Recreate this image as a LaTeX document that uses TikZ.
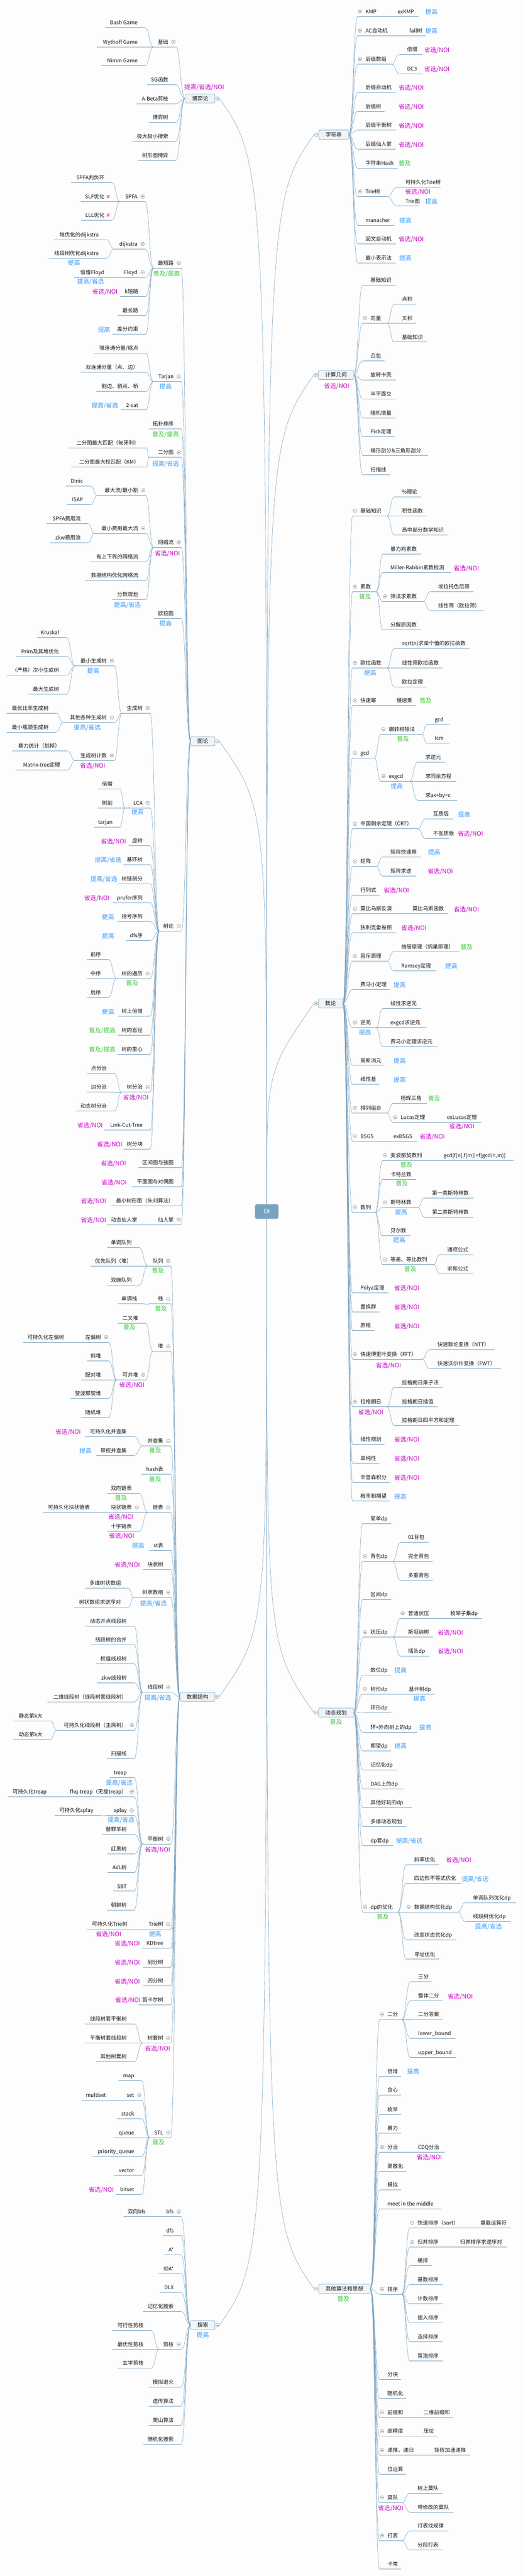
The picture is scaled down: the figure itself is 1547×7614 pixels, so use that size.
\documentclass[tikz,border=0pt]{standalone}
\usepackage{fontspec}
\setmainfont{Noto Sans CJK SC}
\newfontfamily\dvfont{DejaVu Sans}
\usetikzlibrary{calc}
\definecolor{lc}{RGB}{122,162,192}
\definecolor{cblue}{RGB}{55,152,250}
\definecolor{cmag}{RGB}{204,0,204}
\definecolor{cgreen}{RGB}{55,200,55}
\definecolor{xred}{RGB}{255,80,110}
\definecolor{mfill}{RGB}{239,244,248}
\definecolor{rootc}{RGB}{121,162,193}
\definecolor{txc}{RGB}{20,20,20}
\definecolor{bgc}{RGB}{253,253,253}
\definecolor{icc}{RGB}{125,125,125}
\newcommand\tgA{\color{cblue}提高}
\newcommand\tgB{\color{cblue}提高/省选}
\newcommand\tgC{\color{cmag}省选/NOI}
\newcommand\tgD{\color{cgreen}普及}
\newcommand\tgE{\color{cgreen}普及/提高}
\newcommand\tgF{\color{cmag}提高/省选/NOI}
\tikzset{
  uline/.style={lc, line width=1.3pt},
  rline/.style={lc, line width=0.9pt},
  conn/.style={lc, line width=0.9pt, to path={.. controls ($(\tikztostart)!0.5!(\tikztostart -| \tikztotarget)$) and ($(\tikztotarget)!0.5!(\tikztotarget -| \tikztostart)$) .. (\tikztotarget)}},
  tx/.style={inner sep=0pt, font=\fontsize{15.5}{18}\selectfont, text=txc},
  tag/.style={inner sep=0pt, font=\fontsize{18}{20}\selectfont},
  mbox/.style={draw=lc, fill=mfill, line width=1pt, rounded corners=3pt, minimum height=27pt, inner sep=0pt, font=\fontsize{16}{18}\selectfont, text=txc},
  rootbox/.style={fill=rootc, rounded corners=5pt, minimum width=69pt, minimum height=43pt, inner sep=0pt, font=\fontsize{18}{20}\selectfont, text=white},
  colic/.style={circle, draw=icc, fill=white, line width=0.7pt, minimum size=11pt, inner sep=0pt, path picture={\draw[icc, line width=0.8pt] ([xshift=-3pt]path picture bounding box.center) -- ([xshift=3pt]path picture bounding box.center);}},
  xm/.style={inner sep=0pt, font=\dvfont\fontsize{15}{15}\selectfont, text=xred},
}
\newcommand\TpR[5]{%
  \coordinate (#1-l) at (#2,#4);
  \coordinate (#1-r) at (#3,#4);
  \draw[uline] (#1-l) -- (#1-r);
  \node[tx,anchor=base west] (#1) at (#2+23,#4-9) {#5};}
\newcommand\TpL[5]{%
  \coordinate (#1-l) at (#2,#4);
  \coordinate (#1-r) at (#3,#4);
  \draw[uline] (#1-l) -- (#1-r);
  \node[tx,anchor=base east] (#1) at (#3-22,#4-9) {#5};}
\newcommand\TgR[4]{\node[tag,anchor=base west] (#1-t) at (#3,#4-7) {\csname tg#2\endcsname};}
\newcommand\TgL[4]{\node[tag,anchor=base east] (#1-t) at (#3,#4-7) {\csname tg#2\endcsname};}
\newcommand\TgB[4]{\node[tag,anchor=base] (#1-t) at (#3,#4+7) {\csname tg#2\endcsname};}
\newcommand\EdR[2]{\foreach \kid in {#2}{\draw[conn] (#1-r) to (\kid-l);}}
\newcommand\EdL[2]{\foreach \kid in {#2}{\draw[conn] (#1-l) to (\kid-r);}}
\newcommand\ColR[1]{\foreach \kid in {#1}{\node[colic] (\kid-c) at ($(\kid-l)+(7,-15)$) {};}}
\newcommand\ColL[1]{\foreach \kid in {#1}{\node[colic] (\kid-c) at ($(\kid-r)+(-7,-15)$) {};}}
\begin{document}
\begin{tikzpicture}[x=1pt,y=-1pt]
\fill[bgc] (0,0) rectangle (1547,7614);
\useasboundingbox (0,0) rectangle (1547,7614);

%% ================= main boxes =================
\node[mbox,minimum width=88pt] (bo) at (592,291) {博弈论};
\node[mbox,minimum width=72pt] (tl) at (600,2191) {图论};
\node[mbox,minimum width=103pt] (sj) at (584,5015) {数据结构};
\node[mbox,minimum width=72pt] (ss) at (600,6872) {搜索};
\node[mbox,minimum width=89pt] (zf) at (987,398) {字符串};
\node[mbox,minimum width=104pt] (jh) at (994,1108) {计算几何};
\node[mbox,minimum width=72pt] (sl) at (978,2966) {数论};
\node[mbox,minimum width=104pt] (dpm) at (994,5062) {动态规划};
\node[mbox,minimum width=153pt] (qt) at (1019,6765) {其他算法和思想};
\foreach \b in {bo,tl,sj,ss}{\coordinate (\b-l) at (\b.west);}
\foreach \b in {zf,jh,sl,dpm,qt}{\coordinate (\b-r) at (\b.east);}
\TgB{bo}{F}{604}{257}
\TgB{ss}{A}{600}{6901}
\TgB{jh}{C}{996}{1140}
\TgB{dpm}{D}{994}{5089}
\TgB{qt}{D}{1016}{6795}

%% ================= 博弈论 =================
\TpL{b1}{454}{520}{139}{基础}
\TpL{b2}{435}{520}{250}{SG函数}
\TpL{b3}{403}{520}{306}{A-Beta剪枝}
\TpL{b4}{440}{520}{362}{博弈树}
\TpL{b5}{392}{520}{418}{极大极小搜索}
\TpL{b6}{408}{520}{474}{树形图博弈}
\TpL{b11}{311}{429}{82}{Bash Game}
\TpL{b12}{286}{429}{139}{Wythoff Game}
\TpL{b13}{299}{429}{194}{Nimm Game}

%% ================= 图论 =================
\TpL{t1}{454}{536}{792}{最短路} \TgB{t1}{E}{493}{808}
\TpL{t2}{454}{536}{1128}{Tarjan} \TgB{t2}{A}{490}{1142}
\TpL{t3}{440}{536}{1268}{拓扑排序} \TgB{t3}{E}{490}{1283}
\TpL{t4}{440}{536}{1352}{二分图} \TgB{t4}{B}{490}{1370}
\TpL{t5}{454}{536}{1618}{网络流} \TgB{t5}{C}{495}{1635}
\TpL{t6}{456}{536}{1828}{欧拉图} \TgB{t6}{A}{490}{1842}
\TpL{t7}{471}{536}{2752}{树论}
\TpL{t8}{409}{536}{3452}{区间图与弦图} \TgL{t8}{C}{373}{3452}
\TpL{t9}{392}{536}{3508}{平面图与对偶图} \TgL{t9}{C}{375}{3508}
\TpL{ta}{328}{536}{3564}{最小树形图（朱刘算法）} \TgL{ta}{C}{314}{3564}
\TpL{tb}{444}{536}{3620}{仙人掌}
\TpL{tb1}{316}{428}{3620}{动态仙人掌} \TgL{tb1}{C}{314}{3620}
\TpL{t11}{355}{429}{596}{SPFA}
\TpL{t12}{338}{429}{736}{dijkstra}
\TpL{t13}{355}{429}{820}{Floyd}
\TpL{t14}{355}{431}{876}{k短路} \TgL{t14}{C}{348}{876}
\TpL{t15}{348}{431}{932}{最长路}
\TpL{t16}{332}{431}{988}{差分约束} \TgL{t16}{A}{326}{988}
\TpL{t111}{210}{331}{540}{SPFA判负环}
\TpL{t112}{239}{331}{596}{SLF优化} \node[xm] (t112-x) at (320,581) {✘};
\TpL{t113}{240}{331}{651}{LLL优化} \node[xm] (t113-x) at (320,636) {✘};
\TpL{t121}{160}{314}{708}{堆优化的dijkstra}
\TpL{t122}{144}{314}{764}{线段树优化dijkstra} \TgB{t122}{A}{219}{776}
\TpL{t131}{220}{331}{820}{倍增Floyd} \TgB{t131}{B}{268}{832}
\TpL{t21}{278}{431}{1044}{强连通分量/缩点}
\TpL{t22}{237}{431}{1100}{双连通分量（点、边）}
\TpL{t23}{285}{431}{1157}{割边、割点、桥}
\TpL{t24}{358}{431}{1212}{2-sat} \TgL{t24}{B}{350}{1212}
\TpL{t41}{204}{434}{1324}{二分图最大匹配（匈牙利）}
\TpL{t42}{210}{434}{1380}{二分图最大权匹配（KM）}
\TpL{t51}{288}{431}{1464}{最大流/最小割}
\TpL{t52}{279}{431}{1576}{最小费用最大流}
\TpL{t53}{267}{431}{1660}{有上下界的网络流}
\TpL{t54}{252}{431}{1716}{数据结构优化网络流}
\TpL{t55}{332}{431}{1772}{分数规划} \TgB{t55}{B}{377}{1787}
\TpL{t511}{194}{268}{1436}{Dinic}
\TpL{t512}{198}{268}{1492}{ISAP}
\TpL{t521}{137}{261}{1548}{SPFA费用流}
\TpL{t522}{147}{261}{1604}{zkw费用流}
\TpL{t71}{360}{444}{2108}{生成树}
\TpL{t72}{370}{444}{2388}{LCA} \TgB{t72}{A}{407}{2400}
\TpL{t73}{380}{444}{2500}{虚树} \TgL{t73}{C}{373}{2500}
\TpL{t74}{365}{444}{2556}{基环树} \TgL{t74}{B}{360}{2556}
\TpL{t75}{348}{444}{2612}{树链剖分} \TgL{t75}{B}{347}{2612}
\TpL{t76}{333}{444}{2668}{prufer序列} \TgL{t76}{C}{324}{2668}
\TpL{t77}{348}{444}{2724}{括号序列} \TgL{t77}{A}{338}{2724}
\TpL{t78}{373}{444}{2780}{dfs序} \TgL{t78}{A}{338}{2780}
\TpL{t79}{345}{444}{2892}{树的遍历} \TgB{t79}{D}{391}{2906}
\TpL{t7a}{348}{444}{3004}{树上倍增} \TgL{t7a}{A}{338}{3004}
\TpL{t7b}{348}{444}{3060}{树的直径} \TgL{t7b}{E}{342}{3060}
\TpL{t7c}{348}{444}{3116}{树的重心} \TgL{t7c}{E}{342}{3116}
\TpL{t7d}{360}{444}{3228}{树分治} \TgB{t7d}{C}{402}{3243}
\TpL{t7e}{308}{444}{3340}{Link-Cut-Tree} \TgL{t7e}{C}{304}{3340}
\TpL{t7f}{365}{444}{3396}{树分块} \TgL{t7f}{C}{362}{3396}
\TpL{t711}{222}{338}{1968}{最小生成树} \TgB{t711}{A}{276}{1983}
\TpL{t712}{187}{338}{2136}{其他各种生成树} \TgB{t712}{B}{258}{2150}
\TpL{t713}{222}{338}{2248}{生成树计数} \TgB{t713}{C}{274}{2263}
\TpL{m1}{109}{197}{1884}{Kruskal}
\TpL{m2}{49}{197}{1940}{Prim及其堆优化}
\TpL{m3}{20}{197}{1996}{（严格）次小生成树}
\TpL{m4}{84}{197}{2052}{最大生成树}
\TpL{m5}{20}{166}{2108}{最优比率生成树}
\TpL{m6}{20}{166}{2164}{最小瓶颈生成树}
\TpL{m7}{37}{200}{2220}{暴力统计（划掉）}
\TpL{m8}{46}{200}{2276}{Matrix-tree定理}
\TpL{t721}{289}{355}{2332}{倍增}
\TpL{t722}{289}{355}{2388}{树剖}
\TpL{t723}{278}{355}{2444}{tarjan}
\TpL{t791}{257}{321}{2836}{前序}
\TpL{t792}{257}{321}{2892}{中序}
\TpL{t793}{257}{321}{2948}{后序}
\TpL{t7d1}{257}{338}{3172}{点分治}
\TpL{t7d2}{257}{338}{3228}{边分治}
\TpL{t7d3}{225}{338}{3284}{动态树分治}

%% ================= 数据结构 =================
\TpL{d1}{437}{505}{3742}{队列} \TgB{d1}{D}{467}{3755}
\TpL{d11}{316}{412}{3687}{单调队列}
\TpL{d12}{268}{412}{3742}{优先队列（堆）}
\TpL{d13}{316}{412}{3798}{双端队列}
\TpL{d2}{440}{505}{3854}{栈} \TgB{d2}{D}{476}{3867}
\TpL{d21}{348}{428}{3854}{单调栈}
\TpL{d3}{452}{505}{3994}{堆}
\TpL{d31}{348}{431}{3911}{二叉堆} \TgB{d31}{D}{383}{3923}
\TpL{d32}{345}{431}{4078}{可并堆} \TgB{d32}{C}{390}{4093}
\TpL{d321}{228}{321}{3967}{左偏树}
\TpL{d3211}{69}{212}{3967}{可持久化左偏树}
\TpL{d322}{257}{321}{4022}{斜堆}
\TpL{d323}{240}{321}{4078}{配对堆}
\TpL{d324}{209}{321}{4134}{斐波那契堆}
\TpL{d325}{240}{321}{4190}{随机堆}
\TpL{d4}{422}{505}{4274}{并查集} \TgB{d4}{D}{459}{4287}
\TpL{d41}{252}{397}{4246}{可持久化并查集} \TgL{d41}{C}{239}{4246}
\TpL{d42}{284}{397}{4302}{带权并查集} \TgL{d42}{A}{271}{4302}
\TpL{d5}{419}{505}{4358}{hash表} \TgB{d5}{D}{459}{4371}
\TpL{d6}{437}{505}{4470}{链表}
\TpL{d61}{316}{412}{4414}{双向链表} \TgB{d61}{D}{358}{4426}
\TpL{d62}{304}{412}{4470}{块状链表} \TgB{d62}{C}{358}{4483}
\TpL{d621}{128}{288}{4470}{可持久化块状链表}
\TpL{d63}{316}{412}{4526}{十字链表} \TgB{d63}{C}{360}{4540}
\TpL{d7}{442}{505}{4582}{st表} \TgL{d7}{A}{427}{4582}
\TpL{d8}{424}{505}{4639}{块状树} \TgL{d8}{C}{414}{4639}
\TpL{d9}{395}{505}{4722}{树状数组} \TgB{d9}{B}{454}{4739}
\TpL{d91}{252}{380}{4694}{多维树状数组}
\TpL{d92}{219}{380}{4750}{树状数组求逆序对}
\TpL{da}{422}{505}{5002}{线段树} \TgB{da}{B}{467}{5018}
\TpL{da1}{252}{397}{4806}{动态开点线段树}
\TpL{da2}{268}{397}{4862}{线段树的合并}
\TpL{da3}{284}{397}{4918}{权值线段树}
\TpL{da4}{286}{397}{4974}{zkw线段树}
\TpL{da5}{140}{397}{5030}{二维线段树（线段树套线段树）}
\TpL{da6}{168}{397}{5114}{可持久化线段树（主席树）}
\TpL{da61}{39}{148}{5086}{静态第k大}
\TpL{da62}{39}{148}{5142}{动态第k大}
\TpL{da7}{316}{397}{5198}{扫描线}
\TpL{db}{422}{505}{5450}{平衡树} \TgB{db}{C}{466}{5466}
\TpL{db1}{324}{397}{5254}{treap} \TgB{db1}{B}{353}{5268}
\TpL{db2}{175}{397}{5310}{fhq-treap（无旋treap）}
\TpL{db21}{23}{160}{5310}{可持久化treap}
\TpL{db3}{313}{397}{5366}{splay} \TgB{db3}{B}{358}{5378}
\TpL{db31}{161}{298}{5366}{可持久化splay}
\TpL{db4}{301}{397}{5422}{替罪羊树}
\TpL{db5}{316}{397}{5479}{红黑树}
\TpL{db6}{318}{397}{5535}{AVL树}
\TpL{db7}{335}{397}{5590}{SBT}
\TpL{db8}{316}{397}{5646}{朝鲜树}
\TpL{dc}{417}{505}{5702}{Trie树} \TgB{dc}{A}{459}{5716}
\TpL{dc1}{258}{399}{5702}{可持久化Trie树} \TgB{dc1}{C}{321}{5716}
\TpL{dd}{419}{505}{5758}{KDtree} \TgL{dd}{C}{414}{5758}
\TpL{de}{424}{505}{5814}{划分树} \TgL{de}{C}{414}{5814}
\TpL{df}{424}{505}{5870}{四分树} \TgL{df}{C}{414}{5870}
\TpL{dk}{409}{505}{5926}{笛卡尔树} \TgL{dk}{C}{416}{5926}
\TpL{dh}{422}{505}{6039}{树套树} \TgB{dh}{C}{466}{6054}
\TpL{dh1}{252}{397}{5982}{线段树套平衡树}
\TpL{dh2}{252}{397}{6039}{平衡树套线段树}
\TpL{dh3}{284}{397}{6094}{其他树套树}
\TpL{di}{442}{505}{6318}{STL} \TgB{di}{D}{469}{6332}
\TpL{di1}{350}{419}{6150}{map}
\TpL{di2}{351}{419}{6207}{set}
\TpL{di21}{242}{336}{6207}{multiset}
\TpL{di3}{345}{419}{6263}{stack}
\TpL{di4}{337}{419}{6318}{queue}
\TpL{di5}{274}{419}{6374}{priority\_queue}
\TpL{di6}{337}{419}{6430}{vector}
\TpL{di7}{342}{419}{6486}{bitset} \TgL{di7}{C}{337}{6486}

%% ================= 搜索 =================
\TpL{s1}{469}{536}{6552}{bfs}
\TpL{s11}{366}{453}{6552}{双向bfs}
\TpL{s2}{481}{536}{6608}{dfs}
\TpL{s3}{485}{536}{6664}{A*}
\TpL{s4}{469}{536}{6720}{IDA*}
\TpL{s5}{474}{536}{6776}{DLX}
\TpL{s6}{424}{536}{6832}{记忆化搜索}
\TpL{s7}{471}{536}{6944}{剪枝}
\TpL{s71}{332}{447}{6888}{可行性剪枝}
\TpL{s72}{332}{447}{6944}{最优性剪枝}
\TpL{s73}{348}{447}{7000}{玄学剪枝}
\TpL{s8}{440}{536}{7056}{模拟退火}
\TpL{s9}{440}{536}{7112}{遗传算法}
\TpL{sa}{440}{536}{7168}{爬山算法}
\TpL{sb}{424}{536}{7224}{随机化搜索}

%% ================= 字符串 =================
\TpR{z1}{1058}{1153}{49}{KMP}
\TpR{z11}{1153}{1240}{49}{exKMP} \TgR{z11}{A}{1258}{49}
\TpR{z2}{1058}{1188}{105}{AC自动机}
\TpR{z21}{1188}{1260}{105}{fail树} \TgR{z21}{A}{1258}{105}
\TpR{z3}{1058}{1159}{190}{后缀数组}
\TpR{z31}{1181}{1248}{161}{倍增} \TgR{z31}{C}{1255}{161}
\TpR{z32}{1181}{1248}{218}{DC3} \TgR{z32}{C}{1255}{218}
\TpR{z4}{1058}{1171}{273}{后缀自动机} \TgR{z4}{C}{1179}{273}
\TpR{z5}{1058}{1138}{329}{后缀树} \TgR{z5}{C}{1179}{329}
\TpR{z6}{1058}{1171}{385}{后缀平衡树} \TgR{z6}{C}{1179}{385}
\TpR{z7}{1058}{1171}{441}{后缀仙人掌} \TgR{z7}{C}{1179}{441}
\TpR{z8}{1058}{1177}{497}{字符串Hash} \TgR{z8}{D}{1179}{497}
\TpR{z9}{1058}{1144}{581}{Trie树}
\TpR{z91}{1176}{1304}{553}{可持久化Trie树} \TgB{z91}{C}{1236}{566}
\TpR{z92}{1176}{1240}{609}{Trie图} \TgR{z92}{A}{1258}{609}
\TpR{za}{1058}{1167}{666}{manacher} \TgR{za}{A}{1181}{666}
\TpR{zb}{1058}{1171}{721}{回文自动机} \TgR{zb}{C}{1179}{721}
\TpR{zc}{1058}{1171}{777}{最小表示法} \TgR{zc}{A}{1181}{777}

%% ================= 计算几何 =================
\TpR{j1}{1073}{1171}{843}{基础知识}
\TpR{j2}{1073}{1145}{955}{向量}
\TpR{j21}{1166}{1230}{899}{点积}
\TpR{j22}{1166}{1230}{955}{叉积}
\TpR{j23}{1166}{1263}{1011}{基础知识}
\TpR{j3}{1073}{1138}{1067}{凸包}
\TpR{j4}{1073}{1171}{1123}{旋转卡壳}
\TpR{j5}{1073}{1171}{1179}{半平面交}
\TpR{j6}{1073}{1171}{1235}{随机增量}
\TpR{j7}{1073}{1169}{1291}{Pick定理}
\TpR{j8}{1073}{1265}{1347}{梯形剖分\&三角形剖分}
\TpR{j9}{1073}{1154}{1403}{扫描线}

%% ================= 数论 =================
\TpR{n1}{1043}{1145}{1525}{基础知识}
\TpR{n11}{1166}{1245}{1469}{\%理论}
\TpR{n12}{1166}{1263}{1525}{积性函数}
\TpR{n13}{1166}{1327}{1581}{高中部分数学知识}
\TpR{n2}{1043}{1113}{1749}{素数} \TgB{n2}{D}{1080}{1763}
\TpR{n21}{1132}{1246}{1638}{暴力判素数}
\TpR{n22}{1132}{1334}{1693}{Miller-Rabbin素数检测} \TgR{n22}{C}{1342}{1693}
\TpR{n23}{1132}{1251}{1778}{筛法求素数}
\TpR{n231}{1273}{1401}{1749}{埃拉托色尼筛}
\TpR{n232}{1273}{1433}{1805}{线性筛（欧拉筛）}
\TpR{n24}{1132}{1246}{1861}{分解质因数}
\TpR{n3}{1043}{1145}{1974}{欧拉函数} \TgB{n3}{A}{1095}{1988}
\TpR{n31}{1166}{1391}{1917}{sqrt(n)求单个值的欧拉函数}
\TpR{n32}{1166}{1310}{1974}{线性筛欧拉函数}
\TpR{n33}{1166}{1263}{2030}{欧拉定理}
\TpR{n4}{1043}{1150}{2085}{快速幂}
\TpR{n41}{1150}{1230}{2085}{慢速乘} \TgR{n41}{D}{1241}{2085}
\TpR{n5}{1043}{1107}{2240}{gcd}
\TpR{n51}{1127}{1248}{2170}{辗转相除法} \TgB{n51}{D}{1192}{2183}
\TpR{n511}{1263}{1330}{2141}{gcd}
\TpR{n512}{1263}{1330}{2197}{lcm}
\TpR{n52}{1127}{1212}{2309}{exgcd} \TgB{n52}{A}{1174}{2323}
\TpR{n521}{1235}{1317}{2253}{求逆元}
\TpR{n522}{1235}{1349}{2309}{求同余方程}
\TpR{n523}{1235}{1352}{2365}{求ax+by=c}
\TpR{n6}{1043}{1236}{2450}{中国剩余定理（CRT）}
\TpR{n61}{1258}{1340}{2421}{互质版} \TgR{n61}{A}{1355}{2421}
\TpR{n62}{1258}{1330}{2478}{不互质版} \TgR{n62}{C}{1354}{2478}
\TpR{n7}{1043}{1113}{2561}{矩阵}
\TpR{n71}{1132}{1246}{2533}{矩阵快速幂} \TgR{n71}{A}{1266}{2533}
\TpR{n72}{1132}{1231}{2589}{矩阵求逆} \TgR{n72}{C}{1265}{2589}
\TpR{n8}{1043}{1123}{2645}{行列式} \TgR{n8}{C}{1135}{2645}
\TpR{n9}{1043}{1197}{2701}{莫比乌斯反演}
\TpR{n91}{1197}{1327}{2701}{莫比乌斯函数} \TgR{n91}{C}{1342}{2701}
\TpR{na}{1043}{1171}{2757}{狄利克雷卷积} \TgR{na}{C}{1187}{2757}
\TpR{nb}{1043}{1145}{2841}{容斥原理}
\TpR{nb1}{1164}{1359}{2813}{抽屉原理（鸽巢原理）} \TgR{nb1}{D}{1362}{2813}
\TpR{nb2}{1164}{1290}{2869}{Ramsey定理} \TgR{nb2}{A}{1317}{2869}
\TpR{nc}{1043}{1154}{2925}{费马小定理} \TgR{nc}{A}{1164}{2925}
\TpR{nd}{1043}{1113}{3037}{逆元} \TgB{nd}{A}{1080}{3051}
\TpR{nd1}{1132}{1246}{2981}{线性求逆元}
\TpR{nd2}{1132}{1261}{3037}{exgcd求逆元}
\TpR{nd3}{1132}{1294}{3093}{费马小定理求逆元}
\TpR{ne}{1043}{1138}{3149}{高斯消元} \TgR{ne}{A}{1164}{3149}
\TpR{nf}{1043}{1123}{3205}{线性基} \TgR{nf}{A}{1164}{3205}
\TpR{ng}{1043}{1145}{3290}{排列组合}
\TpR{ng1}{1162}{1263}{3261}{杨辉三角} \TgR{ng1}{D}{1266}{3261}
\TpR{ng2}{1162}{1299}{3317}{Lucas定理}
\TpR{ng21}{1299}{1424}{3317}{exLucas定理} \TgB{ng21}{C}{1366}{3329}
\TpR{nh}{1043}{1141}{3373}{BSGS}
\TpR{nh1}{1141}{1233}{3373}{exBSGS} \TgR{nh1}{C}{1241}{3373}
\TpR{ni}{1043}{1110}{3583}{数列}
\TpR{ni1}{1132}{1289}{3430}{斐波那契数列} \TgB{ni1}{D}{1202}{3443}
\TpR{ni11}{1289}{1519}{3430}{gcd(f[n],f[m])=f[gcd(n,m)]}
\TpR{ni2}{1132}{1231}{3486}{卡特兰数} \TgB{ni2}{D}{1189}{3498}
\TpR{ni3}{1132}{1236}{3569}{斯特林数} \TgB{ni3}{A}{1187}{3583}
\TpR{ni31}{1255}{1401}{3541}{第一类斯特林数}
\TpR{ni32}{1255}{1401}{3597}{第二类斯特林数}
\TpR{ni4}{1132}{1214}{3653}{贝尔数} \TgB{ni4}{A}{1181}{3665}
\TpR{ni5}{1132}{1283}{3738}{等差、等比数列} \TgB{ni5}{D}{1214}{3751}
\TpR{ni51}{1300}{1401}{3709}{通项公式}
\TpR{ni52}{1300}{1401}{3765}{求和公式}
\TpR{nj}{1043}{1149}{3821}{Pólya定理} \TgR{nj}{C}{1166}{3821}
\TpR{nk}{1043}{1123}{3877}{置换群} \TgR{nk}{C}{1166}{3877}
\TpR{nl}{1043}{1107}{3933}{原根} \TgR{nl}{C}{1166}{3933}
\TpR{nm}{1043}{1248}{4017}{快速傅里叶变换（FFT）} \TgB{nm}{C}{1149}{4035}
\TpR{nm1}{1271}{1463}{3989}{快速数论变换（NTT）}
\TpR{nm2}{1271}{1482}{4045}{快速沃尔什变换（FWT）}
\TpR{nn}{1043}{1145}{4158}{拉格朗日} \TgB{nn}{C}{1097}{4174}
\TpR{nn1}{1166}{1310}{4101}{拉格朗日乘子法}
\TpR{nn2}{1166}{1294}{4158}{拉格朗日插值}
\TpR{nn3}{1166}{1359}{4213}{拉格朗日四平方和定理}
\TpR{no}{1043}{1138}{4269}{线性规划} \TgR{no}{C}{1166}{4269}
\TpR{np}{1043}{1123}{4325}{单纯性} \TgR{np}{C}{1166}{4325}
\TpR{nq}{1043}{1154}{4381}{辛普森积分} \TgR{nq}{C}{1166}{4381}
\TpR{nr}{1043}{1154}{4437}{概率和期望} \TgR{nr}{A}{1166}{4437}

%% ================= 动态规划 =================
\TpR{p1}{1073}{1157}{4503}{简单dp}
\TpR{p2}{1073}{1162}{4615}{背包dp}
\TpR{p21}{1184}{1268}{4559}{01背包}
\TpR{p22}{1184}{1281}{4615}{完全背包}
\TpR{p23}{1184}{1281}{4671}{多重背包}
\TpR{p3}{1073}{1157}{4727}{区间dp}
\TpR{p4}{1073}{1162}{4839}{状压dp}
\TpR{p41}{1184}{1309}{4783}{普通状压}
\TpR{p411}{1309}{1426}{4783}{枚举子集dp}
\TpR{p42}{1184}{1281}{4839}{斯坦纳树} \TgR{p42}{C}{1295}{4839}
\TpR{p43}{1184}{1270}{4895}{插头dp} \TgR{p43}{C}{1295}{4895}
\TpR{p5}{1073}{1157}{4951}{数位dp} \TgR{p5}{A}{1167}{4951}
\TpR{p6}{1073}{1186}{5007}{树形dp}
\TpR{p61}{1186}{1286}{5007}{基环树dp} \TgB{p61}{A}{1241}{5021}
\TpR{p7}{1073}{1157}{5063}{环形dp}
\TpR{p8}{1073}{1233}{5120}{环+外向树上的dp} \TgR{p8}{A}{1240}{5120}
\TpR{p9}{1073}{1157}{5175}{期望dp} \TgR{p9}{A}{1167}{5175}
\TpR{pa}{1073}{1174}{5231}{记忆化dp}
\TpR{pb}{1073}{1194}{5287}{DAG上的dp}
\TpR{pc}{1073}{1218}{5343}{其他好玩的dp}
\TpR{pd}{1073}{1202}{5399}{多维动态规划}
\TpR{pe}{1073}{1164}{5455}{dp套dp} \TgR{pe}{B}{1171}{5455}
\TpR{pf}{1073}{1177}{5651}{dp的优化} \TgB{pf}{D}{1132}{5665}
\TpR{pf1}{1202}{1299}{5511}{斜率优化} \TgR{pf1}{C}{1319}{5511}
\TpR{pf2}{1202}{1364}{5567}{四边形不等式优化} \TgR{pf2}{B}{1366}{5567}
\TpR{pf3}{1202}{1355}{5651}{数据结构优化dp}
\TpR{pf31}{1376}{1527}{5624}{单调队列优化dp}
\TpR{pf32}{1376}{1510}{5679}{线段树优化dp} \TgB{pf32}{B}{1445}{5694}
\TpR{pf4}{1202}{1350}{5734}{改变状态优化dp}
\TpR{pf5}{1202}{1299}{5791}{寻址优化}

%% ================= 其他算法和思想 =================
\TpR{q1}{1123}{1189}{5969}{二分}
\TpR{q11}{1214}{1278}{5858}{三分}
\TpR{q12}{1214}{1310}{5914}{整体二分} \TgR{q12}{C}{1324}{5914}
\TpR{q13}{1214}{1310}{5969}{二分答案}
\TpR{q14}{1214}{1347}{6025}{lower\_bound}
\TpR{q15}{1214}{1349}{6081}{upper\_bound}
\TpR{q2}{1123}{1186}{6137}{倍增} \TgR{q2}{A}{1204}{6137}
\TpR{q3}{1123}{1186}{6193}{贪心}
\TpR{q4}{1123}{1186}{6250}{枚举}
\TpR{q5}{1123}{1186}{6305}{暴力}
\TpR{q6}{1123}{1213}{6361}{分治}
\TpR{q61}{1213}{1315}{6361}{CDQ分治} \TgB{q61}{C}{1270}{6375}
\TpR{q7}{1123}{1202}{6417}{离散化}
\TpR{q8}{1123}{1186}{6473}{模拟}
\TpR{q9}{1123}{1305}{6529}{meet in the middle}
\TpR{qa}{1123}{1189}{6781}{排序}
\TpR{qa1}{1212}{1398}{6585}{快速排序（sort）}
\TpR{qa11}{1398}{1512}{6585}{重载运算符}
\TpR{qa2}{1212}{1338}{6642}{归并排序}
\TpR{qa21}{1338}{1498}{6642}{归并排序求逆序对}
\TpR{qa3}{1212}{1278}{6697}{桶排}
\TpR{qa4}{1212}{1310}{6753}{基数排序}
\TpR{qa5}{1212}{1310}{6809}{计数排序}
\TpR{qa6}{1212}{1310}{6865}{插入排序}
\TpR{qa7}{1212}{1310}{6921}{选择排序}
\TpR{qa8}{1212}{1310}{6978}{冒泡排序}
\TpR{qb}{1123}{1186}{7033}{分块}
\TpR{qc}{1123}{1202}{7089}{随机化}
\TpR{qd}{1123}{1230}{7145}{前缀和}
\TpR{qd1}{1230}{1342}{7145}{二维前缀和}
\TpR{qe}{1123}{1230}{7201}{高精度}
\TpR{qe1}{1230}{1294}{7201}{压位}
\TpR{qf}{1123}{1262}{7257}{递推，递归}
\TpR{qf1}{1262}{1391}{7257}{矩阵加速递推}
\TpR{qg}{1123}{1202}{7313}{位运算}
\TpR{qh}{1123}{1189}{7397}{莫队} \TgB{qh}{C}{1156}{7412}
\TpR{qh1}{1212}{1310}{7369}{树上莫队}
\TpR{qh2}{1212}{1342}{7425}{带修改的莫队}
\TpR{qi}{1123}{1189}{7509}{打表}
\TpR{qi1}{1212}{1327}{7481}{打表找规律}
\TpR{qi2}{1212}{1310}{7537}{分段打表}
\TpR{qj}{1123}{1186}{7593}{卡常}

%% ================= connectors =================
\EdL{bo}{b1,b2,b3,b4,b5,b6}
\EdL{b1}{b11,b12,b13}
\EdL{tl}{t1,t2,t3,t4,t5,t6,t7,t8,t9,ta,tb}
\EdL{tb}{tb1}
\EdL{t1}{t11,t12,t13,t14,t15,t16}
\EdL{t11}{t111,t112,t113}
\EdL{t12}{t121,t122}
\EdL{t13}{t131}
\EdL{t2}{t21,t22,t23,t24}
\EdL{t4}{t41,t42}
\EdL{t5}{t51,t52,t53,t54,t55}
\EdL{t51}{t511,t512}
\EdL{t52}{t521,t522}
\EdL{t7}{t71,t72,t73,t74,t75,t76,t77,t78,t79,t7a,t7b,t7c,t7d,t7e,t7f}
\EdL{t71}{t711,t712,t713}
\EdL{t711}{m1,m2,m3,m4}
\EdL{t712}{m5,m6}
\EdL{t713}{m7,m8}
\EdL{t72}{t721,t722,t723}
\EdL{t79}{t791,t792,t793}
\EdL{t7d}{t7d1,t7d2,t7d3}
\EdL{sj}{d1,d2,d3,d4,d5,d6,d7,d8,d9,da,db,dc,dd,de,df,dk,dh,di}
\EdL{d1}{d11,d12,d13}
\EdL{d2}{d21}
\EdL{d3}{d31,d32}
\EdL{d32}{d321,d322,d323,d324,d325}
\EdL{d321}{d3211}
\EdL{d4}{d41,d42}
\EdL{d6}{d61,d62,d63}
\EdL{d62}{d621}
\EdL{d9}{d91,d92}
\EdL{da}{da1,da2,da3,da4,da5,da6,da7}
\EdL{da6}{da61,da62}
\EdL{db}{db1,db2,db3,db4,db5,db6,db7,db8}
\EdL{db2}{db21}
\EdL{db3}{db31}
\EdL{dc}{dc1}
\EdL{dh}{dh1,dh2,dh3}
\EdL{di}{di1,di2,di3,di4,di5,di6,di7}
\EdL{di2}{di21}
\EdL{ss}{s1,s2,s3,s4,s5,s6,s7,s8,s9,sa,sb}
\EdL{s1}{s11}
\EdL{s7}{s71,s72,s73}
\EdR{zf}{z1,z2,z3,z4,z5,z6,z7,z8,z9,za,zb,zc}
\EdR{z1}{z11}
\EdR{z2}{z21}
\EdR{z3}{z31,z32}
\EdR{z9}{z91,z92}
\EdR{jh}{j1,j2,j3,j4,j5,j6,j7,j8,j9}
\EdR{j2}{j21,j22,j23}
\EdR{sl}{n1,n2,n3,n4,n5,n6,n7,n8,n9,na,nb,nc,nd,ne,nf,ng,nh,ni,nj,nk,nl,nm,nn,no,np,nq,nr}
\EdR{n1}{n11,n12,n13}
\EdR{n2}{n21,n22,n23,n24}
\EdR{n23}{n231,n232}
\EdR{n3}{n31,n32,n33}
\EdR{n4}{n41}
\EdR{n5}{n51,n52}
\EdR{n51}{n511,n512}
\EdR{n52}{n521,n522,n523}
\EdR{n6}{n61,n62}
\EdR{n7}{n71,n72}
\EdR{n9}{n91}
\EdR{nb}{nb1,nb2}
\EdR{nd}{nd1,nd2,nd3}
\EdR{ng}{ng1,ng2}
\EdR{ng2}{ng21}
\EdR{nh}{nh1}
\EdR{ni}{ni1,ni2,ni3,ni4,ni5}
\EdR{ni1}{ni11}
\EdR{ni3}{ni31,ni32}
\EdR{ni5}{ni51,ni52}
\EdR{nm}{nm1,nm2}
\EdR{nn}{nn1,nn2,nn3}
\EdR{dpm}{p1,p2,p3,p4,p5,p6,p7,p8,p9,pa,pb,pc,pd,pe,pf}
\EdR{p2}{p21,p22,p23}
\EdR{p4}{p41,p42,p43}
\EdR{p41}{p411}
\EdR{p6}{p61}
\EdR{pf}{pf1,pf2,pf3,pf4,pf5}
\EdR{pf3}{pf31,pf32}
\EdR{qt}{q1,q2,q3,q4,q5,q6,q7,q8,q9,qa,qb,qc,qd,qe,qf,qg,qh,qi,qj}
\EdR{q1}{q11,q12,q13,q14,q15}
\EdR{q6}{q61}
\EdR{qa}{qa1,qa2,qa3,qa4,qa5,qa6,qa7,qa8}
\EdR{qa1}{qa11}
\EdR{qa2}{qa21}
\EdR{qd}{qd1}
\EdR{qe}{qe1}
\EdR{qf}{qf1}
\EdR{qh}{qh1,qh2}
\EdR{qi}{qi1,qi2}

%% ================= collapse icons =================
\ColL{b1,t1,t2,t4,t5,t7,tb,t11,t12,t13,t51,t52,t71,t711,t712,t713,t72,t79,t7d}
\ColL{d1,d2,d3,d32,d321,d4,d6,d62,d9,da,da6,db,db2,db3,dc,dh,di,di2,s1,s7}
\ColR{z1,z2,z3,z9,j2}
\ColR{n1,n2,n23,n3,n4,n5,n51,n52,n6,n7,n9,nb,nd,ng,ng2,nh,ni,ni1,ni3,ni5,nm,nn}
\ColR{p2,p4,p41,p6,pf,pf3,q1,q6,qa,qa1,qa2,qd,qe,qf,qh,qi}
\foreach \b in {bo,tl,sj,ss}{\node[colic] (\b-c) at ([xshift=7pt]\b.east) {};}
\foreach \b in {zf,jh,sl,dpm,qt}{\node[colic] (\b-c) at ([xshift=-7pt]\b.west) {};}

%% ================= root =================
\node[rootbox] (OI) at (789,3581) {OI};
\draw[rline] (OI.north) .. controls (789,491) .. (bo-c.east);
\draw[rline] (OI.north) .. controls (789,2391) .. (tl-c.east);
\draw[rline] (OI.south) .. controls (789,4815) .. (sj-c.east);
\draw[rline] (OI.south) .. controls (789,6672) .. (ss-c.east);
\draw[rline] (OI.north) .. controls (789,598) .. (zf-c.west);
\draw[rline] (OI.north) .. controls (789,1308) .. (jh-c.west);
\draw[rline] (OI.north) .. controls (789,3166) .. (sl-c.west);
\draw[rline] (OI.south) .. controls (789,4862) .. (dpm-c.west);
\draw[rline] (OI.south) .. controls (789,6565) .. (qt-c.west);
\end{tikzpicture}
\end{document}
